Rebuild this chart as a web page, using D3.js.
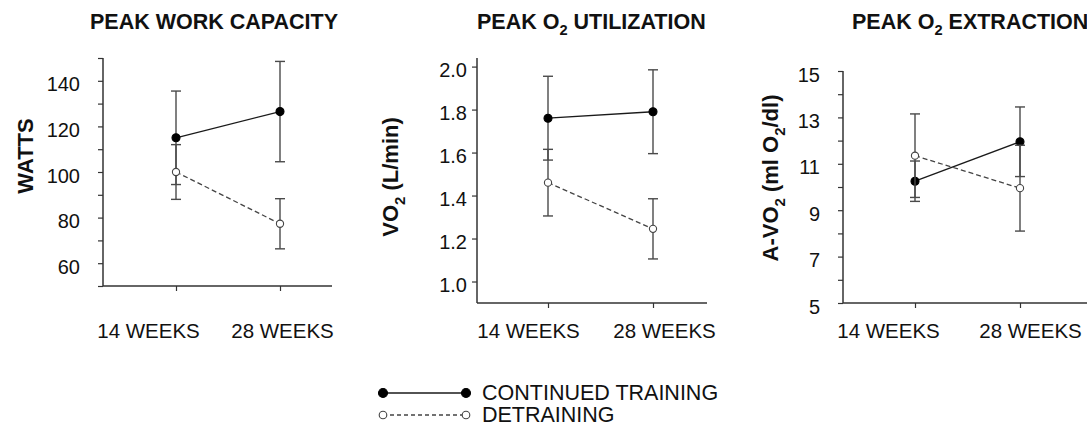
<!DOCTYPE html>
<html>
<head>
<meta charset="utf-8">
<script src="https://cdn.jsdelivr.net/npm/d3@7"></script>
<style>
  body { margin: 0; background: #fff; }
  svg { display: block; }
  text { font-family: "Liberation Sans", Arial, sans-serif; fill: #111; }
</style>
</head>
<body>
<div id="chart"></div>
<script>
// values (mean, +/- error)
var weeks = ["14 WEEKS", "28 WEEKS"];
var seriesNames = ["CONTINUED TRAINING", "DETRAINING"];

var wattsTrain = [115, 126.5],     wattsTrainErr = [20.5, 22];
var wattsDetrain = [100, 77.3],    wattsDetrainErr = [12, 11];

var vo2Train = [1.76, 1.79],       vo2TrainErr = [0.195, 0.195];
var vo2Detrain = [1.46, 1.245],    vo2DetrainErr = [0.155, 0.14];

var avo2Train = [10.25, 11.95],    avo2TrainErr = [0.87, 1.5];
var avo2Detrain = [11.35, 9.95],   avo2DetrainErr = [1.8, 1.85];

var wattsLabels = [60, 80, 100, 120, 140];
var vo2Labels = [1.0, 1.2, 1.4, 1.6, 1.8, 2.0];
var avo2Labels = [5, 7, 9, 11, 13, 15];

const width = 1087;
const height = 426;

var axisColor = "#333",
    trainColor = "#1a1a1a",
    detrainColor = "#444",
    errColor = "#4a4a4a",
    fontTick = 20,
    fontTitle = 21.5,
    fontAxisTitle = 22;

var panels = [
    {
        title: ["PEAK WORK CAPACITY"], titleX: 90,
        yTitle: ["WATTS"], yTitleX: 33, yTitleY: 156,
        left: 103, right: 332, x0: 176, x1: 280, top: 58, bottom: 286,
        domain: [50, 150], ticks: d3.range(50, 151, 10), labels: wattsLabels,
        fmt: d3.format("d"), pad: 18, labelDx: [-28, 2],
        train: wattsTrain, trainErr: wattsTrainErr,
        detrain: wattsDetrain, detrainErr: wattsDetrainErr
    },
    {
        title: ["PEAK O", "2", " UTILIZATION"], titleX: 477,
        yTitle: ["VO", "2", " (L/min)"], yTitleX: 398, yTitleY: 177,
        left: 477, right: 707, x0: 548, x1: 653, top: 58, bottom: 303,
        domain: [0.9, 2.04], ticks: vo2Labels, labels: vo2Labels,
        fmt: d3.format(".1f"), pad: 5, labelDx: [-20, 11],
        train: vo2Train, trainErr: vo2TrainErr,
        detrain: vo2Detrain, detrainErr: vo2DetrainErr
    },
    {
        title: ["PEAK O", "2", " EXTRACTION"], titleX: 852,
        yTitle: ["A-VO", "2", " (ml O", "2", "/dl)"], yTitleX: 778, yTitleY: 178,
        left: 843, right: 1100, x0: 915, x1: 1020, top: 71, bottom: 303,
        domain: [5, 15], ticks: d3.range(5, 16, 1), labels: avo2Labels,
        fmt: d3.format("d"), pad: 18, labelDx: [-27, 10],
        train: avo2Train, trainErr: avo2TrainErr,
        detrain: avo2Detrain, detrainErr: avo2DetrainErr
    }
];

var svg = d3.select("#chart").append("svg")
    .attr("width", width)
    .attr("height", height);

svg.append("rect").attr("width", width).attr("height", height).attr("fill", "#fff");

// writes pieces of text, every odd piece as a subscript
function subText(sel, parts, size) {
    parts.forEach(function(p, i) {
        var sub = i % 2 == 1;
        var t = sel.append("tspan").text(p);
        if (sub) {
            t.attr("font-size", size * 0.68).attr("dy", size * 0.3);
        } else if (i > 0) {
            t.attr("dy", -size * 0.3);
        }
    });
}

panels.forEach(function(p) {
    var g = svg.append("g");

    var x = d3.scalePoint().domain(weeks).range([p.x0, p.x1]);
    var y = d3.scaleLinear().domain(p.domain).range([p.bottom, p.top]);

    // title
    var title = g.append("text")
        .attr("x", p.titleX)
        .attr("y", 29)
        .attr("font-size", fontTitle)
        .attr("font-weight", "bold");
    subText(title, p.title, fontTitle);

    // y axis title
    var yt = g.append("text")
        .attr("transform", "translate(" + p.yTitleX + "," + p.yTitleY + ") rotate(-90)")
        .attr("text-anchor", "middle")
        .attr("font-size", fontAxisTitle)
        .attr("font-weight", "bold");
    subText(yt, p.yTitle, fontAxisTitle);

    // y axis
    var yAxis = d3.axisLeft(y)
        .tickValues(p.ticks)
        .tickSize(5)
        .tickPadding(p.pad)
        .tickFormat(function(d) {
            return p.labels.some(function(l) { return Math.abs(l - d) < 1e-6; }) ? p.fmt(d) : "";
        });

    var yg = g.append("g")
        .attr("transform", "translate(" + p.left + ",0)")
        .call(yAxis);
    yg.select(".domain").remove();
    yg.selectAll(".tick line").attr("stroke", axisColor).attr("stroke-width", 1.2);
    yg.selectAll(".tick text")
        .attr("font-size", fontTick)
        .attr("font-family", "Liberation Sans, Arial, sans-serif")
        .attr("fill", "#111")
        .attr("dy", "0.5em");

    g.append("line")
        .attr("x1", p.left).attr("x2", p.left)
        .attr("y1", p.top).attr("y2", p.bottom)
        .attr("stroke", axisColor).attr("stroke-width", 1.5);

    // x axis
    var xg = g.append("g")
        .attr("transform", "translate(0," + p.bottom + ")")
        .call(d3.axisBottom(x).tickSize(5));
    xg.select(".domain").remove();
    xg.selectAll(".tick line").attr("stroke", axisColor).attr("stroke-width", 1.2);
    xg.selectAll(".tick text")
        .attr("font-size", 20.5)
        .attr("font-family", "Liberation Sans, Arial, sans-serif")
        .attr("fill", "#111")
        .attr("y", 338 - p.bottom)
        .attr("dy", 0)
        .attr("dx", function(d, i) { return p.labelDx[i]; });

    g.append("line")
        .attr("x1", p.left).attr("x2", p.right)
        .attr("y1", p.bottom).attr("y2", p.bottom)
        .attr("stroke", axisColor).attr("stroke-width", 1.5);

    var series = [
        { vals: p.train, errs: p.train.map(function(v, i) { return p.trainErr[i]; }), filled: true },
        { vals: p.detrain, errs: p.detrain.map(function(v, i) { return p.detrainErr[i]; }), filled: false }
    ];

    series.forEach(function(s) {
        var pts = s.vals.map(function(v, i) { return { w: weeks[i], v: v, e: s.errs[i] }; });

        // error bars
        pts.forEach(function(d) {
            var cx = x(d.w);
            g.append("line")
                .attr("x1", cx).attr("x2", cx)
                .attr("y1", y(d.v - d.e)).attr("y2", y(d.v + d.e))
                .attr("stroke", errColor).attr("stroke-width", 1.4);
            [d.v - d.e, d.v + d.e].forEach(function(ev) {
                g.append("line")
                    .attr("x1", cx - 5).attr("x2", cx + 5)
                    .attr("y1", y(ev)).attr("y2", y(ev))
                    .attr("stroke", errColor).attr("stroke-width", 1.4);
            });
        });

        g.append("path")
            .datum(pts)
            .attr("fill", "none")
            .attr("stroke", s.filled ? trainColor : detrainColor)
            .attr("stroke-width", 1.3)
            .attr("stroke-dasharray", s.filled ? null : "5,3")
            .attr("d", d3.line().x(function(d) { return x(d.w); }).y(function(d) { return y(d.v); }));

        g.selectAll(null)
            .data(pts)
            .enter().append("circle")
            .attr("cx", function(d) { return x(d.w); })
            .attr("cy", function(d) { return y(d.v); })
            .attr("r", s.filled ? 4 : 3.6)
            .attr("fill", s.filled ? "#000" : "#fff")
            .attr("stroke", s.filled ? "#000" : detrainColor)
            .attr("stroke-width", 1.1);
    });
});

// legend
var legend = svg.append("g");
seriesNames.forEach(function(name, i) {
    var ly = 393 + i * 22;
    var filled = i == 0;
    legend.append("line")
        .attr("x1", 383).attr("x2", 466)
        .attr("y1", ly).attr("y2", ly)
        .attr("stroke", filled ? trainColor : detrainColor)
        .attr("stroke-width", 1.3)
        .attr("stroke-dasharray", filled ? null : "4,3");
    [383, 466].forEach(function(cx) {
        legend.append("circle")
            .attr("cx", cx).attr("cy", ly)
            .attr("r", filled ? 4.5 : 3.8)
            .attr("fill", filled ? "#000" : "#fff")
            .attr("stroke", filled ? "#000" : detrainColor)
            .attr("stroke-width", 1.1);
    });
    legend.append("text")
        .attr("x", 482)
        .attr("y", ly + 7)
        .attr("font-size", 21.5)
        .text(name);
});
</script>
</body>
</html>
